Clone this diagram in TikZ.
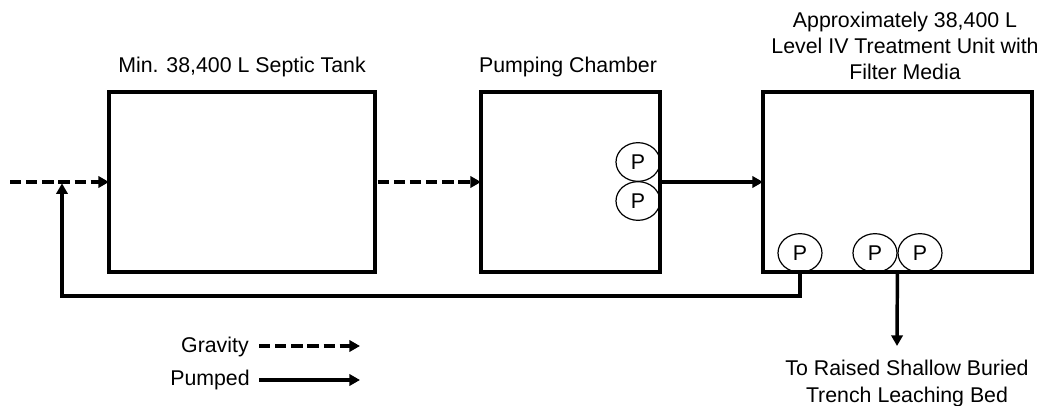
\documentclass[tikz,border=0pt]{standalone}
\usepackage{fontspec}
\setmainfont{Liberation Sans}
\usetikzlibrary{arrows.meta,shapes.geometric}
\begin{document}
\begin{tikzpicture}[x=0.75pt,y=-0.75pt,
  tank/.style={draw,line width=2.8pt,inner sep=0,outer sep=0,minimum width=#1},
  pump/.style={draw,ellipse,line width=0.9pt,inner sep=0,minimum width=33pt,minimum height=29pt,font=\fontsize{16}{19}\selectfont},
  lbl/.style={font=\fontsize{16}{19.75}\selectfont,align=center,inner sep=0},
  flow/.style={line width=2.6pt,-{Triangle[length=8pt,width=8.5pt]}},
  gravity/.style={flow,dash pattern=on 8.5pt off 3.6pt},
  pumped/.style={flow}]
\useasboundingbox (0,0) rectangle (1050,406);
% tanks
\node[tank=199.5pt,minimum height=135pt] (st) at (242,182) {};
\node[tank=134.25pt,minimum height=135pt] (pc) at (570.5,182) {};
\node[tank=201.75pt,minimum height=135pt] (tu) at (897.5,182) {};
% titles
\node[lbl,anchor=base] (stt) at (242,73) {Min. 38,400 L Septic Tank};
\node[lbl,anchor=base] (pct) at (568,73) {Pumping Chamber};
\node[lbl,anchor=north] (tut) at (905,11.5) {Approximately 38,400 L\\Level IV Treatment Unit with\\Filter Media};
% pumps
\node[pump] (p1) at (638,162) {P};
\node[pump] (p2) at (638,201) {P};
\node[pump] (p3) at (800,253) {P};
\node[pump] (p4) at (875,253) {P};
\node[pump] (p5) at (920,253) {P};
% flows
\coordinate (in) at (10,182);
\coordinate (jn) at (62,182);
\draw[gravity] (in) -- (st.west);
\draw[gravity] ([xshift=2pt]st.east) -- (pc.west);
\draw[pumped] (pc.east) -- (tu.west);
\draw[pumped] (p3.south) -- ++(0,23) -| ([yshift=-1pt]jn);
\coordinate (out) at (897,346);
\draw[pumped] (tu.south -| p5.west) -- (out);
\node[lbl,anchor=north] (outt) at (907,360) {To Raised Shallow Buried\\Trench Leaching Bed};
% legend
\node[lbl,anchor=base east] (lg) at (249,352.5) {Gravity};
\node[lbl,anchor=base east] (lp) at (250,385.5) {Pumped};
\coordinate (lge) at (360,346);
\coordinate (lpe) at (360,380);
\draw[gravity] (lge -| 259,0) -- (lge);
\draw[pumped] (lpe -| 259,0) -- (lpe);
\end{tikzpicture}
\end{document}
